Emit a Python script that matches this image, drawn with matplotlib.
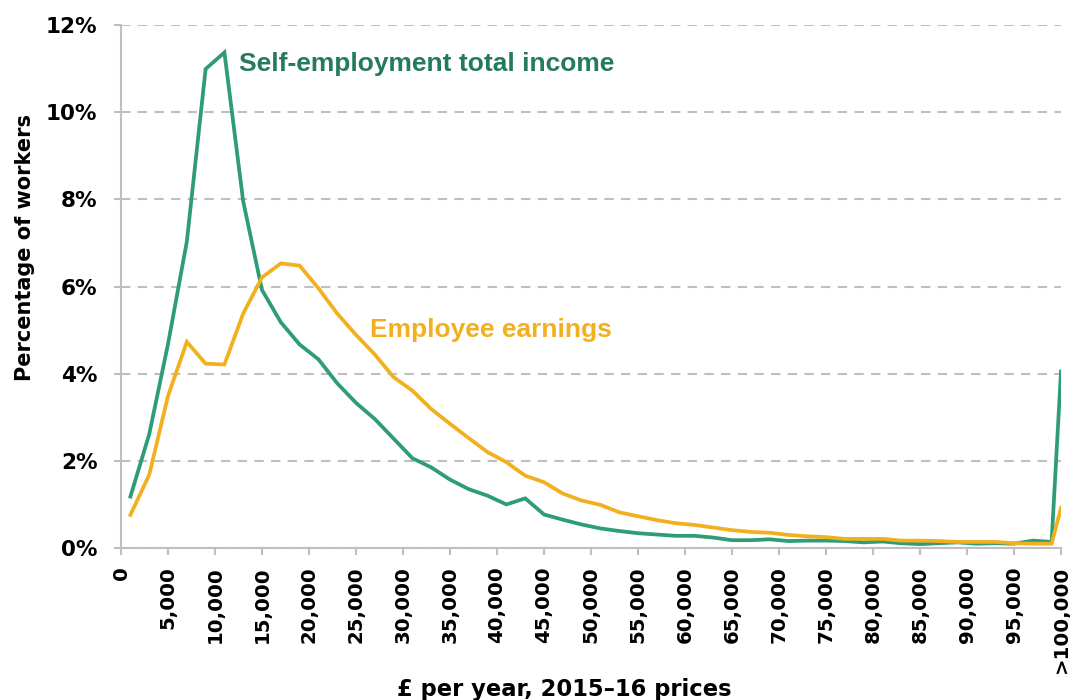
import matplotlib
matplotlib.use("Agg")
import matplotlib.pyplot as plt
from matplotlib.ticker import FuncFormatter

plt.rcParams['font.family'] = ['DejaVu Sans']
plt.rcParams['font.weight'] = 'bold'

# income band midpoints (£), last one is the >100,000 band
income = [1000, 3000, 5000, 7000, 9000, 11000, 13000, 15000, 17000, 19000,
          21000, 23000, 25000, 27000, 29000, 31000, 33000, 35000, 37000, 39000,
          41000, 43000, 45000, 47000, 49000, 51000, 53000, 55000, 57000, 59000,
          61000, 63000, 65000, 67000, 69000, 71000, 73000, 75000, 77000, 79000,
          81000, 83000, 85000, 87000, 89000, 91000, 93000, 95000, 97000, 99000,
          100000]

self_emp = [1.18, 2.61, 4.68, 7.03, 10.99, 11.37, 7.95, 5.92, 5.18, 4.67,
            4.33, 3.78, 3.33, 2.96, 2.51, 2.06, 1.85, 1.57, 1.35, 1.20,
            1.00, 1.14, 0.77, 0.65, 0.54, 0.45, 0.39, 0.34, 0.31, 0.28,
            0.28, 0.24, 0.18, 0.18, 0.20, 0.16, 0.17, 0.17, 0.16, 0.13,
            0.15, 0.11, 0.09, 0.11, 0.13, 0.10, 0.11, 0.10, 0.17, 0.14,
            4.05]

employee = [0.76, 1.68, 3.49, 4.73, 4.23, 4.21, 5.38, 6.21, 6.53, 6.48,
            5.96, 5.38, 4.89, 4.44, 3.92, 3.61, 3.19, 2.85, 2.52, 2.20,
            1.97, 1.66, 1.51, 1.25, 1.09, 0.99, 0.82, 0.73, 0.64, 0.57,
            0.53, 0.47, 0.41, 0.37, 0.35, 0.30, 0.27, 0.25, 0.21, 0.21,
            0.21, 0.17, 0.17, 0.16, 0.14, 0.14, 0.14, 0.11, 0.10, 0.10,
            0.92]

xticks = list(range(0, 100001, 5000))
xlabels = ["0"] + ["{:,}".format(v) for v in xticks[1:-1]] + [">100,000"]

green = "#2E9C76"
green_text = "#247A5C"
yellow = "#F2B01E"
grey = "#BFBFBF"

fig = plt.figure(figsize=(10.7, 7.0), dpi=100)
ax = fig.add_axes([0.1131, 0.2171, 0.8785, 0.7472])

ax.plot(income, self_emp, color=green, lw=2.7, solid_joinstyle='miter')
ax.plot(income, employee, color=yellow, lw=2.7, solid_joinstyle='miter')

ax.set_xlim(0, 100000)
ax.set_ylim(0, 12)
ax.set_yticks(range(0, 13, 2))
ax.yaxis.set_major_formatter(FuncFormatter(lambda v, p: "{:.0f}%".format(v)))
ax.set_xticks(xticks)
ax.set_xticklabels(xlabels, rotation=90, va='top', ha='center')

ax.grid(axis='y', color=grey, linestyle=(0, (4.5, 3.5)), lw=1.5)
ax.set_axisbelow(True)
for s in ['top', 'right']:
    ax.spines[s].set_visible(False)
for s in ['left', 'bottom']:
    ax.spines[s].set_color(grey)
    ax.spines[s].set_linewidth(1.5)
ax.tick_params(axis='both', colors=grey, length=5, width=1.5, labelcolor='black')
ax.tick_params(axis='y', pad=12, labelsize=15.5)
ax.tick_params(axis='x', pad=8, labelsize=14.2)

ax.set_ylabel("Percentage of workers", fontsize=15, fontweight='bold')
ax.yaxis.set_label_coords(-0.0915, 0.574)
ax.set_xlabel("£ per year, 2015–16 prices", fontsize=16.3, fontweight='bold')
ax.xaxis.set_label_coords(0.472, -0.249)

ax.text(12600, 11.1, "Self-employment total income", color=green_text, fontsize=19,
        fontweight='bold', va='center', family='Liberation Sans')
ax.text(26500, 5.0, "Employee earnings", color=yellow, fontsize=19,
        fontweight='bold', va='center', family='Liberation Sans')

fig.savefig("out.png", dpi=100)
